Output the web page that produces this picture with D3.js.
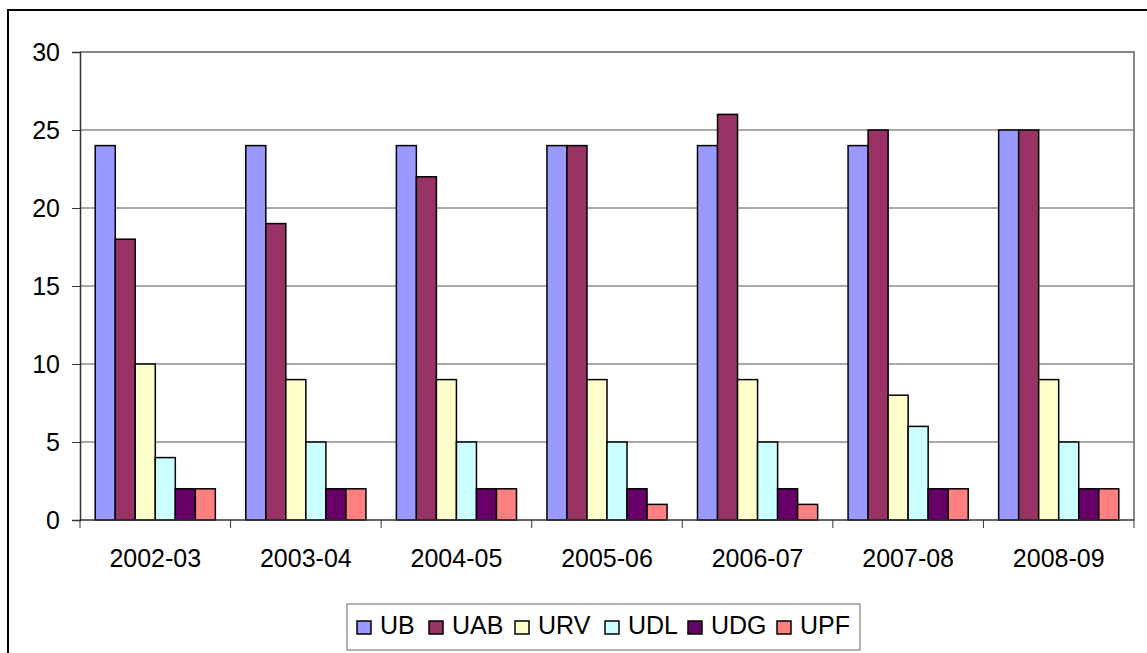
<!DOCTYPE html>
<html>
<head>
<meta charset="utf-8">
<script src="https://cdn.jsdelivr.net/npm/d3@7"></script>
<style>
  body { margin: 0; background: #fff; }
  svg text { font-family: "Liberation Sans", Arial, sans-serif; }
</style>
</head>
<body>
<script>
// data
const years = ["2002-03", "2003-04", "2004-05", "2005-06", "2006-07", "2007-08", "2008-09"];
const series = ["UB", "UAB", "URV", "UDL", "UDG", "UPF"];
const colors = ["#9999FF", "#993366", "#FFFFCC", "#CCFFFF", "#660066", "#FF8080"];
const ub  = [24, 24, 24, 24, 24, 24, 25];
const uab = [18, 19, 22, 24, 26, 25, 25];
const urv = [10, 9, 9, 9, 9, 8, 9];
const udl = [4, 5, 5, 5, 5, 6, 5];
const udg = [2, 2, 2, 2, 2, 2, 2];
const upf = [2, 2, 2, 1, 1, 2, 2];
const yTicks = [0, 5, 10, 15, 20, 25, 30];

const values = [ub, uab, urv, udl, udg, upf];

const width = 1147, height = 653;
const fontSize = 25;
const svg = d3.select("body").append("svg")
	.attr("width", width).attr("height", height);

// outer chart frame (runs off the picture at right and bottom)
svg.append("rect")
	.attr("x", 8).attr("y", 10)
	.attr("width", 1160).attr("height", 680)
	.attr("fill", "none").attr("stroke", "#000").attr("stroke-width", 2);

const plotLeft = 80, plotRight = 1134, plotTop = 52, plotBottom = 520;

let x0 = d3.scaleBand().domain(years).range([plotLeft, plotRight]).padding(0);
let x1 = d3.scaleBand().domain(series).range([0, x0.bandwidth()])
	.paddingInner(0).paddingOuter(0.76);
let y = d3.scaleLinear().domain([0, 30]).range([plotBottom, plotTop]);

// gridlines
svg.append("g").selectAll("line")
	.data(yTicks.filter(d => d > 0))
	.enter().append("line")
	.attr("x1", plotLeft).attr("x2", plotRight)
	.attr("y1", d => y(d)).attr("y2", d => y(d))
	.attr("stroke", "#555").attr("stroke-width", 1);

// plot area border top/right
svg.append("path")
	.attr("d", `M${plotLeft},${plotTop}H${plotRight}V${plotBottom}`)
	.attr("fill", "none").attr("stroke", "#888").attr("stroke-width", 2);

// bars
const groups = svg.append("g").selectAll("g")
	.data(years)
	.enter().append("g")
	.attr("transform", d => `translate(${x0(d)},0)`);

groups.selectAll("rect")
	.data((d, i) => series.map((s, j) => ({ s: s, v: values[j][i], c: colors[j] })))
	.enter().append("rect")
	.attr("x", d => x1(d.s))
	.attr("y", d => y(d.v))
	.attr("width", x1.bandwidth())
	.attr("height", d => y(0) - y(d.v))
	.attr("fill", d => d.c)
	.attr("stroke", "#000").attr("stroke-width", 1.5);

// y axis
const yAxis = svg.append("g")
	.attr("transform", `translate(${plotLeft},0)`)
	.call(d3.axisLeft(y).tickValues(yTicks).tickSize(8).tickPadding(12));
yAxis.attr("font-size", fontSize).attr("font-family", null);
yAxis.select(".domain").attr("stroke", "#333").attr("stroke-width", 1.5);
yAxis.selectAll(".tick line").attr("stroke", "#333");
yAxis.selectAll("text").attr("fill", "#000");

// x axis, ticks between categories
const xAxis = svg.append("g")
	.attr("transform", `translate(0,${plotBottom})`);
xAxis.append("line")
	.attr("x1", plotLeft).attr("x2", plotRight)
	.attr("stroke", "#333").attr("stroke-width", 1.5);
xAxis.selectAll(".sep")
	.data(years.concat(["end"]))
	.enter().append("line")
	.attr("x1", (d, i) => plotLeft + i * x0.step())
	.attr("x2", (d, i) => plotLeft + i * x0.step())
	.attr("y1", 0).attr("y2", 8)
	.attr("stroke", "#333");
xAxis.selectAll("text")
	.data(years)
	.enter().append("text")
	.attr("x", d => x0(d) + x0.bandwidth() / 2)
	.attr("y", 47)
	.attr("text-anchor", "middle")
	.attr("font-size", fontSize)
	.text(d => d);

// legend
const legend = svg.append("g");
legend.append("rect")
	.attr("x", 347).attr("y", 604)
	.attr("width", 513).attr("height", 46)
	.attr("fill", "#fff").attr("stroke", "#666").attr("stroke-width", 1);

const legendX = [357, 429, 515, 605, 688, 777];
const items = legend.selectAll(".item")
	.data(series)
	.enter().append("g")
	.attr("transform", (d, i) => `translate(${legendX[i]},621)`);
items.append("rect")
	.attr("width", 14).attr("height", 13)
	.attr("fill", (d, i) => colors[i])
	.attr("stroke", "#000").attr("stroke-width", 1.5);
items.append("text")
	.attr("x", 23).attr("y", 13)
	.attr("font-size", fontSize)
	.text(d => d);
</script>
</body>
</html>
